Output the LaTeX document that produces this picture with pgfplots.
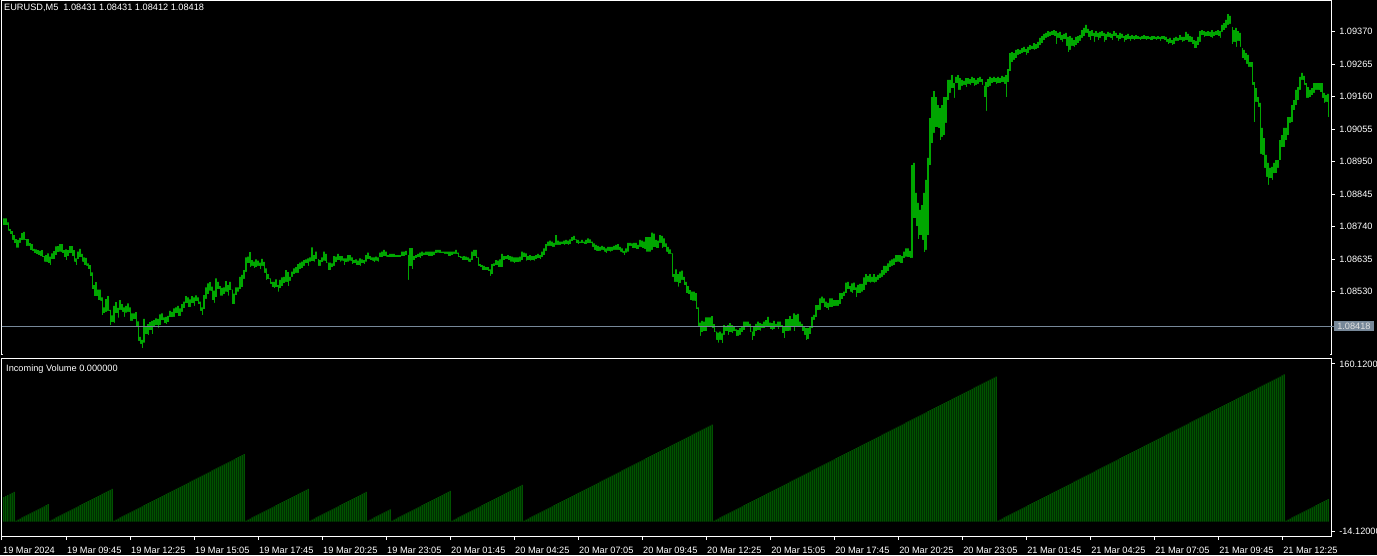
\documentclass[border=0pt]{standalone}
\usepackage{fontspec}
\setmainfont{Liberation Sans}
\usepackage{pgfplots}
\usepackage{pgfplotstable}
\pgfplotsset{compat=1.18}
\definecolor{barg}{HTML}{00FF00}
\definecolor{volg}{HTML}{008000}
\definecolor{bidc}{HTML}{778899}
\newcommand{\tf}{\fontsize{9.2}{10}\selectfont}
\pgfplotstableread[row sep=\\]{hi lo\\
1.08767 1.08745\\1.08767 1.08745\\1.08754 1.08727\\1.08732 1.08715\\1.08726 1.08697\\1.08713 1.08686\\1.08700 1.08672\\1.08697 1.08672\\1.08704 1.08688\\1.08719 1.08696\\
1.08723 1.08697\\1.08700 1.08677\\1.08700 1.08678\\1.08687 1.08664\\1.08684 1.08662\\1.08668 1.08654\\1.08667 1.08650\\1.08664 1.08648\\1.08662 1.08645\\1.08664 1.08641\\
1.08645 1.08627\\1.08648 1.08626\\1.08654 1.08621\\1.08643 1.08616\\1.08654 1.08635\\1.08661 1.08635\\1.08676 1.08648\\1.08677 1.08657\\1.08684 1.08659\\1.08684 1.08654\\
1.08664 1.08640\\1.08667 1.08632\\1.08664 1.08645\\1.08677 1.08654\\1.08677 1.08645\\1.08664 1.08627\\1.08638 1.08616\\1.08659 1.08634\\1.08668 1.08641\\1.08652 1.08627\\
1.08641 1.08616\\1.08639 1.08614\\1.08621 1.08602\\1.08616 1.08580\\1.08592 1.08538\\1.08551 1.08514\\1.08561 1.08516\\1.08537 1.08503\\1.08537 1.08501\\1.08512 1.08454\\
1.08479 1.08460\\1.08506 1.08465\\1.08516 1.08468\\1.08471 1.08422\\1.08453 1.08432\\1.08484 1.08429\\1.08496 1.08460\\1.08478 1.08446\\1.08503 1.08471\\1.08490 1.08465\\
1.08479 1.08449\\1.08484 1.08462\\1.08492 1.08465\\1.08479 1.08436\\1.08460 1.08436\\1.08460 1.08440\\1.08464 1.08417\\1.08434 1.08371\\1.08384 1.08361\\1.08374 1.08346\\
1.08442 1.08365\\1.08419 1.08393\\1.08425 1.08388\\1.08432 1.08406\\1.08436 1.08393\\1.08438 1.08417\\1.08444 1.08422\\1.08442 1.08413\\1.08457 1.08422\\1.08460 1.08438\\
1.08447 1.08428\\1.08449 1.08425\\1.08452 1.08430\\1.08468 1.08447\\1.08465 1.08447\\1.08476 1.08449\\1.08479 1.08460\\1.08484 1.08451\\1.08476 1.08451\\1.08490 1.08465\\
1.08498 1.08476\\1.08516 1.08492\\1.08512 1.08479\\1.08505 1.08479\\1.08516 1.08492\\1.08512 1.08484\\1.08518 1.08498\\1.08512 1.08490\\1.08498 1.08468\\1.08479 1.08454\\
1.08519 1.08473\\1.08544 1.08507\\1.08557 1.08522\\1.08561 1.08533\\1.08546 1.08503\\1.08533 1.08494\\1.08573 1.08512\\1.08562 1.08537\\1.08548 1.08517\\1.08542 1.08517\\
1.08544 1.08522\\1.08564 1.08530\\1.08551 1.08517\\1.08562 1.08535\\1.08537 1.08490\\1.08524 1.08490\\1.08544 1.08519\\1.08544 1.08530\\1.08578 1.08537\\1.08584 1.08544\\
1.08600 1.08571\\1.08641 1.08594\\1.08643 1.08621\\1.08658 1.08609\\1.08632 1.08613\\1.08627 1.08605\\1.08634 1.08609\\1.08630 1.08613\\1.08624 1.08602\\1.08636 1.08613\\
1.08626 1.08591\\1.08605 1.08568\\1.08587 1.08570\\1.08573 1.08555\\1.08562 1.08544\\1.08562 1.08541\\1.08570 1.08544\\1.08551 1.08530\\1.08568 1.08541\\1.08576 1.08548\\
1.08578 1.08557\\1.08600 1.08562\\1.08593 1.08548\\1.08578 1.08565\\1.08595 1.08578\\1.08605 1.08587\\1.08609 1.08591\\1.08619 1.08591\\1.08624 1.08602\\1.08627 1.08605\\
1.08632 1.08613\\1.08634 1.08621\\1.08638 1.08613\\1.08641 1.08627\\1.08673 1.08628\\1.08648 1.08627\\1.08659 1.08634\\1.08635 1.08613\\1.08632 1.08613\\1.08641 1.08624\\
1.08659 1.08630\\1.08652 1.08621\\1.08624 1.08598\\1.08624 1.08598\\1.08621 1.08609\\1.08645 1.08613\\1.08643 1.08624\\1.08652 1.08632\\1.08645 1.08627\\1.08645 1.08630\\
1.08638 1.08616\\1.08638 1.08624\\1.08648 1.08627\\1.08648 1.08630\\1.08641 1.08619\\1.08632 1.08621\\1.08634 1.08616\\1.08630 1.08616\\1.08638 1.08613\\1.08634 1.08621\\
1.08632 1.08619\\1.08648 1.08627\\1.08656 1.08634\\1.08645 1.08632\\1.08641 1.08630\\1.08641 1.08624\\1.08643 1.08630\\1.08641 1.08627\\1.08656 1.08641\\1.08659 1.08641\\
1.08665 1.08645\\1.08659 1.08643\\1.08648 1.08641\\1.08652 1.08641\\1.08652 1.08641\\1.08652 1.08641\\1.08648 1.08641\\1.08648 1.08641\\1.08648 1.08641\\1.08659 1.08645\\
1.08659 1.08645\\1.08662 1.08648\\1.08648 1.08568\\1.08671 1.08611\\1.08671 1.08603\\1.08645 1.08632\\1.08648 1.08638\\1.08652 1.08641\\1.08656 1.08638\\1.08659 1.08645\\
1.08656 1.08648\\1.08659 1.08648\\1.08659 1.08645\\1.08659 1.08645\\1.08659 1.08645\\1.08659 1.08648\\1.08665 1.08654\\1.08665 1.08656\\1.08665 1.08654\\1.08659 1.08654\\
1.08659 1.08652\\1.08659 1.08652\\1.08659 1.08645\\1.08659 1.08645\\1.08659 1.08648\\1.08659 1.08652\\1.08665 1.08652\\1.08656 1.08641\\1.08645 1.08637\\1.08643 1.08632\\
1.08645 1.08632\\1.08643 1.08632\\1.08641 1.08627\\1.08637 1.08624\\1.08659 1.08632\\1.08665 1.08645\\1.08665 1.08638\\1.08641 1.08613\\1.08619 1.08609\\1.08616 1.08600\\
1.08613 1.08598\\1.08609 1.08598\\1.08609 1.08595\\1.08602 1.08581\\1.08619 1.08587\\1.08621 1.08611\\1.08632 1.08616\\1.08630 1.08609\\1.08634 1.08609\\1.08652 1.08609\\
1.08645 1.08632\\1.08645 1.08634\\1.08648 1.08632\\1.08645 1.08627\\1.08643 1.08627\\1.08641 1.08621\\1.08641 1.08624\\1.08641 1.08624\\1.08643 1.08627\\1.08659 1.08632\\
1.08656 1.08641\\1.08654 1.08630\\1.08645 1.08632\\1.08648 1.08630\\1.08645 1.08632\\1.08645 1.08630\\1.08648 1.08634\\1.08652 1.08638\\1.08648 1.08634\\1.08659 1.08641\\
1.08670 1.08648\\1.08684 1.08662\\1.08692 1.08678\\1.08695 1.08678\\1.08692 1.08675\\1.08688 1.08675\\1.08713 1.08681\\1.08695 1.08681\\1.08692 1.08681\\1.08692 1.08684\\
1.08695 1.08681\\1.08697 1.08684\\1.08695 1.08681\\1.08699 1.08684\\1.08706 1.08692\\1.08710 1.08695\\1.08699 1.08686\\1.08697 1.08684\\1.08692 1.08686\\1.08697 1.08686\\
1.08692 1.08683\\1.08697 1.08684\\1.08702 1.08686\\1.08699 1.08686\\1.08692 1.08675\\1.08686 1.08665\\1.08681 1.08662\\1.08678 1.08661\\1.08675 1.08662\\1.08678 1.08665\\
1.08675 1.08659\\1.08670 1.08654\\1.08675 1.08662\\1.08675 1.08659\\1.08675 1.08662\\1.08678 1.08665\\1.08681 1.08665\\1.08684 1.08665\\1.08675 1.08659\\1.08670 1.08656\\
1.08662 1.08648\\1.08670 1.08656\\1.08688 1.08659\\1.08688 1.08678\\1.08686 1.08670\\1.08688 1.08670\\1.08688 1.08667\\1.08681 1.08667\\1.08697 1.08675\\1.08695 1.08670\\
1.08692 1.08668\\1.08706 1.08659\\1.08706 1.08659\\1.08706 1.08659\\1.08721 1.08665\\1.08718 1.08673\\1.08697 1.08670\\1.08695 1.08670\\1.08713 1.08688\\1.08710 1.08670\\
1.08702 1.08675\\1.08686 1.08659\\1.08675 1.08652\\1.08667 1.08652\\1.08654 1.08578\\1.08587 1.08562\\1.08602 1.08562\\1.08587 1.08546\\1.08595 1.08557\\1.08598 1.08568\\
1.08578 1.08551\\1.08562 1.08525\\1.08548 1.08522\\1.08535 1.08503\\1.08530 1.08501\\1.08530 1.08501\\1.08525 1.08473\\1.08479 1.08417\\1.08430 1.08387\\1.08436 1.08398\\
1.08433 1.08401\\1.08447 1.08401\\1.08447 1.08417\\1.08447 1.08419\\1.08451 1.08412\\1.08425 1.08398\\1.08401 1.08374\\1.08398 1.08365\\1.08401 1.08374\\1.08395 1.08363\\
1.08422 1.08390\\1.08417 1.08401\\1.08422 1.08390\\1.08428 1.08398\\1.08422 1.08395\\1.08417 1.08401\\1.08408 1.08385\\1.08406 1.08387\\1.08412 1.08390\\1.08415 1.08398\\
1.08433 1.08406\\1.08433 1.08415\\1.08433 1.08417\\1.08426 1.08398\\1.08401 1.08372\\1.08417 1.08385\\1.08426 1.08401\\1.08433 1.08406\\1.08428 1.08404\\1.08426 1.08412\\
1.08433 1.08412\\1.08438 1.08417\\1.08449 1.08417\\1.08430 1.08408\\1.08428 1.08406\\1.08436 1.08408\\1.08426 1.08417\\1.08433 1.08408\\1.08433 1.08417\\1.08422 1.08395\\
1.08417 1.08379\\1.08441 1.08401\\1.08441 1.08401\\1.08451 1.08404\\1.08441 1.08417\\1.08460 1.08401\\1.08455 1.08417\\1.08458 1.08415\\1.08433 1.08417\\1.08426 1.08401\\
1.08417 1.08390\\1.08412 1.08372\\1.08412 1.08376\\1.08419 1.08393\\1.08449 1.08412\\1.08455 1.08439\\1.08487 1.08447\\1.08487 1.08469\\1.08508 1.08471\\1.08514 1.08492\\
1.08508 1.08479\\1.08498 1.08476\\1.08494 1.08471\\1.08508 1.08479\\1.08508 1.08479\\1.08503 1.08482\\1.08503 1.08484\\1.08503 1.08484\\1.08525 1.08490\\1.08525 1.08505\\
1.08530 1.08514\\1.08559 1.08525\\1.08562 1.08538\\1.08548 1.08530\\1.08557 1.08525\\1.08559 1.08535\\1.08544 1.08512\\1.08552 1.08525\\1.08555 1.08525\\1.08555 1.08530\\
1.08576 1.08535\\1.08587 1.08552\\1.08581 1.08562\\1.08587 1.08559\\1.08578 1.08562\\1.08587 1.08559\\1.08578 1.08562\\1.08584 1.08568\\1.08589 1.08573\\1.08600 1.08578\\
1.08613 1.08584\\1.08613 1.08591\\1.08621 1.08595\\1.08630 1.08609\\1.08634 1.08613\\1.08638 1.08616\\1.08648 1.08624\\1.08648 1.08627\\1.08648 1.08621\\1.08645 1.08621\\
1.08659 1.08638\\1.08670 1.08643\\1.08670 1.08641\\1.08662 1.08638\\1.08939 1.08639\\1.08946 1.08768\\1.08849 1.08742\\1.08817 1.08700\\1.08794 1.08713\\1.08810 1.08697\\
1.08849 1.08658\\1.08891 1.08665\\1.08962 1.08713\\1.09091 1.08939\\1.09159 1.09010\\1.09178 1.09043\\1.09159 1.09062\\1.09133 1.09059\\1.09123 1.09020\\1.09133 1.09030\\
1.09159 1.09036\\1.09159 1.09075\\1.09214 1.09149\\1.09214 1.09172\\1.09230 1.09188\\1.09204 1.09156\\1.09224 1.09204\\1.09230 1.09182\\1.09220 1.09182\\1.09214 1.09195\\
1.09211 1.09198\\1.09220 1.09191\\1.09220 1.09201\\1.09217 1.09198\\1.09224 1.09204\\1.09220 1.09195\\1.09214 1.09198\\1.09220 1.09201\\1.09224 1.09207\\1.09217 1.09198\\
1.09195 1.09159\\1.09207 1.09114\\1.09217 1.09191\\1.09224 1.09195\\1.09220 1.09204\\1.09224 1.09207\\1.09220 1.09201\\1.09224 1.09204\\1.09220 1.09204\\1.09227 1.09207\\
1.09224 1.09201\\1.09230 1.09159\\1.09249 1.09207\\1.09301 1.09243\\1.09304 1.09272\\1.09301 1.09279\\1.09311 1.09285\\1.09314 1.09295\\1.09311 1.09298\\1.09317 1.09301\\
1.09321 1.09304\\1.09314 1.09295\\1.09321 1.09301\\1.09327 1.09311\\1.09324 1.09314\\1.09333 1.09311\\1.09330 1.09314\\1.09337 1.09317\\1.09350 1.09327\\1.09356 1.09333\\
1.09363 1.09343\\1.09366 1.09350\\1.09372 1.09353\\1.09369 1.09356\\1.09372 1.09359\\1.09375 1.09356\\1.09372 1.09330\\1.09366 1.09350\\1.09369 1.09343\\1.09359 1.09337\\
1.09363 1.09346\\1.09366 1.09324\\1.09353 1.09304\\1.09356 1.09311\\1.09350 1.09324\\1.09343 1.09321\\1.09353 1.09327\\1.09356 1.09333\\1.09359 1.09340\\1.09375 1.09350\\
1.09382 1.09356\\1.09392 1.09366\\1.09379 1.09353\\1.09372 1.09343\\1.09375 1.09356\\1.09366 1.09337\\1.09372 1.09353\\1.09366 1.09343\\1.09369 1.09350\\1.09372 1.09356\\
1.09366 1.09337\\1.09363 1.09343\\1.09369 1.09353\\1.09366 1.09350\\1.09363 1.09343\\1.09372 1.09356\\1.09366 1.09350\\1.09359 1.09340\\1.09366 1.09346\\1.09363 1.09350\\
1.09356 1.09337\\1.09359 1.09343\\1.09363 1.09346\\1.09356 1.09340\\1.09359 1.09346\\1.09356 1.09343\\1.09359 1.09346\\1.09356 1.09346\\1.09353 1.09343\\1.09356 1.09346\\
1.09359 1.09346\\1.09356 1.09343\\1.09356 1.09346\\1.09353 1.09343\\1.09356 1.09343\\1.09356 1.09346\\1.09353 1.09343\\1.09356 1.09346\\1.09353 1.09340\\1.09356 1.09346\\
1.09356 1.09343\\1.09353 1.09337\\1.09346 1.09330\\1.09350 1.09333\\1.09343 1.09327\\1.09350 1.09330\\1.09353 1.09340\\1.09350 1.09340\\1.09359 1.09343\\1.09353 1.09337\\
1.09353 1.09340\\1.09369 1.09343\\1.09363 1.09337\\1.09356 1.09337\\1.09353 1.09330\\1.09343 1.09317\\1.09340 1.09317\\1.09353 1.09327\\1.09372 1.09337\\1.09375 1.09359\\
1.09372 1.09353\\1.09369 1.09356\\1.09372 1.09356\\1.09369 1.09353\\1.09375 1.09350\\1.09369 1.09356\\1.09372 1.09359\\1.09375 1.09356\\1.09372 1.09350\\1.09392 1.09369\\
1.09398 1.09375\\1.09408 1.09382\\1.09427 1.09392\\1.09421 1.09395\\1.09385 1.09330\\1.09375 1.09337\\1.09382 1.09321\\1.09372 1.09340\\1.09366 1.09321\\1.09317 1.09285\\
1.09311 1.09279\\1.09301 1.09266\\1.09295 1.09256\\1.09272 1.09256\\1.09272 1.09198\\1.09207 1.09078\\1.09188 1.09143\\1.09159 1.09127\\1.09140 1.08975\\1.09059 1.08972\\
1.09026 1.08930\\1.08972 1.08901\\1.08946 1.08875\\1.08930 1.08897\\1.08933 1.08891\\1.08946 1.08913\\1.08955 1.08913\\1.08955 1.08930\\1.09020 1.08955\\1.09036 1.08997\\
1.09059 1.08997\\1.09059 1.09020\\1.09094 1.09036\\1.09094 1.09075\\1.09133 1.09078\\1.09149 1.09117\\1.09182 1.09133\\1.09191 1.09149\\1.09224 1.09182\\1.09237 1.09214\\
1.09227 1.09198\\1.09204 1.09156\\1.09191 1.09156\\1.09182 1.09159\\1.09188 1.09165\\1.09204 1.09172\\1.09204 1.09182\\1.09204 1.09182\\1.09204 1.09175\\1.09204 1.09156\\
1.09172 1.09140\\1.09165 1.09143\\1.09169 1.09094\\
}\price
\pgfplotstableread[row sep=\\]{v\\
24\\25\\26\\27\\28\\29\\
1\\2\\3\\4\\5\\6\\7\\8\\9\\10\\11\\12\\13\\14\\15\\16\\17\\
1\\2\\3\\4\\5\\6\\7\\8\\9\\10\\11\\12\\13\\14\\15\\16\\17\\18\\19\\20\\21\\22\\23\\24\\25\\26\\27\\28\\29\\30\\31\\32\\
1\\2\\3\\4\\5\\6\\7\\8\\9\\10\\11\\12\\13\\14\\15\\16\\17\\18\\19\\20\\21\\22\\23\\24\\25\\26\\27\\28\\29\\30\\31\\32\\33\\34\\35\\36\\37\\38\\39\\40\\41\\42\\43\\44\\45\\46\\47\\48\\49\\50\\51\\52\\53\\54\\55\\56\\57\\58\\59\\60\\61\\62\\63\\64\\65\\66\\
1\\2\\3\\4\\5\\6\\7\\8\\9\\10\\11\\12\\13\\14\\15\\16\\17\\18\\19\\20\\21\\22\\23\\24\\25\\26\\27\\28\\29\\30\\31\\32\\
1\\2\\3\\4\\5\\6\\7\\8\\9\\10\\11\\12\\13\\14\\15\\16\\17\\18\\19\\20\\21\\22\\23\\24\\25\\26\\27\\28\\29\\
1\\2\\3\\4\\5\\6\\7\\8\\9\\10\\11\\12\\
1\\2\\3\\4\\5\\6\\7\\8\\9\\10\\11\\12\\13\\14\\15\\16\\17\\18\\19\\20\\21\\22\\23\\24\\25\\26\\27\\28\\29\\30\\
1\\2\\3\\4\\5\\6\\7\\8\\9\\10\\11\\12\\13\\14\\15\\16\\17\\18\\19\\20\\21\\22\\23\\24\\25\\26\\27\\28\\29\\30\\31\\32\\33\\34\\35\\36\\
1\\2\\3\\4\\5\\6\\7\\8\\9\\10\\11\\12\\13\\14\\15\\16\\17\\18\\19\\20\\21\\22\\23\\24\\25\\26\\27\\28\\29\\30\\31\\32\\33\\34\\35\\36\\37\\38\\39\\40\\41\\42\\43\\44\\45\\46\\47\\48\\49\\50\\51\\52\\53\\54\\55\\56\\57\\58\\59\\60\\61\\62\\63\\64\\65\\66\\67\\68\\69\\70\\71\\72\\73\\74\\75\\76\\77\\78\\79\\80\\81\\82\\83\\84\\85\\86\\87\\88\\89\\90\\91\\92\\93\\94\\95\\
1\\2\\3\\4\\5\\6\\7\\8\\9\\10\\11\\12\\13\\14\\15\\16\\17\\18\\19\\20\\21\\22\\23\\24\\25\\26\\27\\28\\29\\30\\31\\32\\33\\34\\35\\36\\37\\38\\39\\40\\41\\42\\43\\44\\45\\46\\47\\48\\49\\50\\51\\52\\53\\54\\55\\56\\57\\58\\59\\60\\61\\62\\63\\64\\65\\66\\67\\68\\69\\70\\71\\72\\73\\74\\75\\76\\77\\78\\79\\80\\81\\82\\83\\84\\85\\86\\87\\88\\89\\90\\91\\92\\93\\94\\95\\96\\97\\98\\99\\100\\101\\102\\103\\104\\105\\106\\107\\108\\109\\110\\111\\112\\113\\114\\115\\116\\117\\118\\119\\120\\121\\122\\123\\124\\125\\126\\127\\128\\129\\130\\131\\132\\133\\134\\135\\136\\137\\138\\139\\140\\141\\142\\
1\\2\\3\\4\\5\\6\\7\\8\\9\\10\\11\\12\\13\\14\\15\\16\\17\\18\\19\\20\\21\\22\\23\\24\\25\\26\\27\\28\\29\\30\\31\\32\\33\\34\\35\\36\\37\\38\\39\\40\\41\\42\\43\\44\\45\\46\\47\\48\\49\\50\\51\\52\\53\\54\\55\\56\\57\\58\\59\\60\\61\\62\\63\\64\\65\\66\\67\\68\\69\\70\\71\\72\\73\\74\\75\\76\\77\\78\\79\\80\\81\\82\\83\\84\\85\\86\\87\\88\\89\\90\\91\\92\\93\\94\\95\\96\\97\\98\\99\\100\\101\\102\\103\\104\\105\\106\\107\\108\\109\\110\\111\\112\\113\\114\\115\\116\\117\\118\\119\\120\\121\\122\\123\\124\\125\\126\\127\\128\\129\\130\\131\\132\\133\\134\\135\\136\\137\\138\\139\\140\\141\\142\\143\\144\\
1\\2\\3\\4\\5\\6\\7\\8\\9\\10\\11\\12\\13\\14\\15\\16\\17\\18\\19\\20\\21\\22\\
}\vol
\begin{document}
\begin{tikzpicture}[x=1pt,y=1pt]
\fill[black] (0,0) rectangle (1377,555);
\begin{axis}[
  at={(2pt,19pt)}, anchor=south west, scale only axis,
  width=1329pt, height=178pt,
  xmin=-1, xmax=663.5, ymin=-14.12, ymax=160.12,
  axis background/.style={fill=black},
  axis line style={white, line width=1pt},
  xtick={-1,31,63,95,127,159,191,223,255,287,319,351,383,415,447,479,511,543,575,607,639},
  xticklabels={19 Mar 2024,19 Mar 09:45,19 Mar 12:25,19 Mar 15:05,19 Mar 17:45,19 Mar 20:25,19 Mar 23:05,20 Mar 01:45,20 Mar 04:25,20 Mar 07:05,20 Mar 09:45,20 Mar 12:25,20 Mar 15:05,20 Mar 17:45,20 Mar 20:25,20 Mar 23:05,21 Mar 01:45,21 Mar 04:25,21 Mar 07:05,21 Mar 09:45,21 Mar 12:25},
  xtick pos=bottom, xticklabel pos=bottom,
  ytick={-9.23,154.25}, yticklabels={-14.12000,160.12000},
  ytick pos=right, yticklabel pos=right,
  tick align=outside, major tick length=4pt,
  tick style={white, line width=1pt},
  xticklabel style={font=\tf, text=white, anchor=base west, inner sep=0pt, yshift=-13pt, xshift=1pt},
  yticklabel style={font=\tf, text=white, anchor=west, inner sep=0pt, xshift=4pt},
]
\addplot[ybar, bar width=1pt, bar shift=0pt, fill=volg, draw=none] table[x expr=\coordindex, y=v] {\vol};
\end{axis}
% price panel: y axis in points above 1.08000 (price = 1.08 + y/100000)
\begin{axis}[
  at={(2pt,200pt)}, anchor=south west, scale only axis,
  width=1329pt, height=354pt,
  xmin=-1, xmax=663.5, ymin=325.4, ymax=1469.2,
  axis background/.style={fill=black},
  axis line style={white, line width=1pt},
  xtick=\empty,
  ytick={530,635,740,845,950,1055,1160,1265,1370},
  yticklabels={1.08530,1.08635,1.08740,1.08845,1.08950,1.09055,1.09160,1.09265,1.09370},
  ytick pos=right, yticklabel pos=right,
  tick align=outside, major tick length=4pt,
  tick style={white, line width=1pt},
  yticklabel style={font=\tf, text=white, anchor=west, inner sep=0pt, xshift=4pt},
]
\addplot[ybar, bar width=1.3pt, bar shift=0pt, fill=barg, draw=none]
  table[x expr=\coordindex, y expr=\thisrow{hi}*100000-108000] {\price};
\addplot[ybar, bar width=2pt, bar shift=0pt, fill=black, draw=black, line width=0.3pt]
  table[x expr=\coordindex, y expr=\thisrow{lo}*100000-108000] {\price};
\addplot[bidc, line width=1pt, mark=none] coordinates {(-1,418) (663.5,418)};
\coordinate (bid) at (axis cs:663.5,418);
\end{axis}
\draw[bidc, line width=1pt] (bid) -- ++(3,0);
\node[anchor=west, fill=bidc, text=white!88!black, inner xsep=3pt, inner ysep=1.8pt, font=\tf] at ([xshift=3pt]bid) {1.08418};
\node[anchor=base west, inner sep=0pt, text=white, font=\tf] at (4,544.3) {EURUSD,M5\hspace{5pt}1.08431 1.08431 1.08412 1.08418};
\node[anchor=base west, inner sep=0pt, text=white, font=\tf] at (6,183.5) {Incoming Volume 0.000000};
\pgfresetboundingbox
\useasboundingbox (0,0) rectangle (1377,555);
\end{tikzpicture}
\end{document}
